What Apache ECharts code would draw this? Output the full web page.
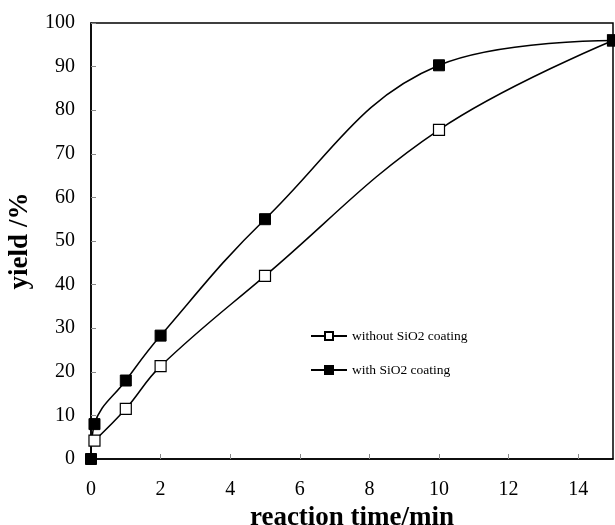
<!DOCTYPE html>
<html><head><meta charset="utf-8">
<script src="https://cdn.jsdelivr.net/npm/echarts@6/dist/echarts.min.js"></script>
<style>html,body{margin:0;padding:0;background:#fff}#c{width:615px;height:525px}</style>
</head><body><div id="c"></div>
<script>
const timeMin = [0, 0.1, 1, 2, 5, 10, 15];
const withoutSiO2 = [null, 4.2, 11.5, 21.3, 42, 75.5, 96];
const withSiO2 = [0, 8, 18, 28.3, 55, 90.3, 96];
const xTicks = [0, 2, 4, 6, 8, 10, 12, 14];
const yTicks = [0, 10, 20, 30, 40, 50, 60, 70, 80, 90, 100];

const font = '"Liberation Serif", "Times New Roman", serif';
const pairs = (ys) => timeMin.map((t, i) => ys[i] == null ? null : [t, ys[i]]).filter(p => p);

const chart = echarts.init(document.getElementById('c'));
chart.setOption({
  animation: false,
  backgroundColor: '#fff',
  grid: { left: 91, right: 2, top: 23, bottom: 66, show: true, borderColor: '#000', borderWidth: 1.5,
    containLabel: false, outerBoundsMode: 'none' },
  xAxis: {
    type: 'value', min: 0, max: 15, interval: 2,
    name: 'reaction time/min', nameLocation: 'middle', nameGap: 37,
    nameTextStyle: { fontFamily: font, fontSize: 27, fontWeight: 'bold', color: '#000' },
    axisLine: { show: true, lineStyle: { color: '#000', width: 1.5 } },
    axisTick: { show: true, inside: true, length: 5, lineStyle: { color: '#888' } },
    axisLabel: { fontFamily: font, fontSize: 20, color: '#000', margin: 21, showMaxLabel: false,
      formatter: v => xTicks.includes(v) ? String(v) : '' },
    splitLine: { show: false }
  },
  yAxis: {
    type: 'value', min: 0, max: 100, interval: 10,
    name: 'yield /%', nameLocation: 'middle', nameGap: 57, nameRotate: 90,
    nameTextStyle: { fontFamily: font, fontSize: 27, fontWeight: 'bold', color: '#000' },
    axisLine: { show: true, lineStyle: { color: '#000', width: 1.5 } },
    axisTick: { show: true, inside: true, length: 5, lineStyle: { color: '#888' } },
    axisLabel: { fontFamily: font, fontSize: 20, color: '#000', margin: 16,
      formatter: v => yTicks.includes(v) ? String(v) : '' },
    splitLine: { show: false }
  },
  legend: {
    orient: 'vertical', left: 305, top: 324, itemGap: 20, itemWidth: 36, itemHeight: 10,
    textStyle: { fontFamily: font, fontSize: 13.5, color: '#000' },
    data: ['without SiO2 coating', 'with SiO2 coating']
  },
  series: [
    { name: 'without SiO2 coating', type: 'line', smooth: 0.4, data: pairs(withoutSiO2),
      symbol: 'rect', symbolSize: 11, showAllSymbol: true, clip: false,
      lineStyle: { color: '#000', width: 1.5 },
      itemStyle: { color: '#fff', borderColor: '#000', borderWidth: 1.2 } },
    { name: 'with SiO2 coating', type: 'line', smooth: 0.4, data: pairs(withSiO2),
      symbol: 'rect', symbolSize: 11, showAllSymbol: true, clip: false,
      lineStyle: { color: '#000', width: 1.5 },
      itemStyle: { color: '#000', borderColor: '#000', borderWidth: 1 } }
  ]
});
</script></body></html>
